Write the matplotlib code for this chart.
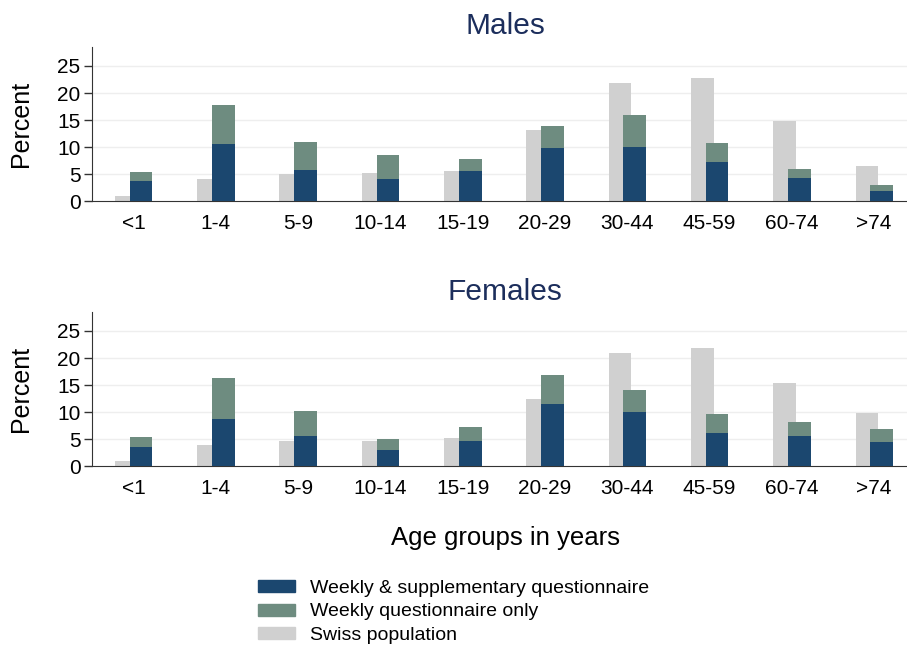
import numpy as np
import matplotlib
matplotlib.use("Agg")
import matplotlib.pyplot as plt
from matplotlib.patches import Patch

plt.rcParams['font.family'] = ['Liberation Sans', 'DejaVu Sans']

# Datos
grupos = ['<1', '1-4', '5-9', '10-14', '15-19', '20-29', '30-44', '45-59', '60-74', '>74']

hombres_poblacion = [1.0, 4.2, 5.1, 5.2, 5.6, 13.2, 21.8, 22.85, 14.75, 6.45]
hombres_semanal_supl = [3.7, 10.6, 5.8, 4.2, 5.6, 9.8, 10.0, 7.25, 4.3, 1.85]
hombres_semanal_total = [5.35, 17.7, 10.9, 8.5, 7.9, 14.0, 15.9, 10.75, 6.0, 3.1]

mujeres_poblacion = [1.0, 3.9, 4.7, 4.7, 5.2, 12.5, 20.9, 21.9, 15.4, 9.8]
mujeres_semanal_supl = [3.6, 8.7, 5.65, 3.0, 4.7, 11.5, 10.0, 6.1, 5.65, 4.5]
mujeres_semanal_total = [5.5, 16.4, 10.25, 5.1, 7.3, 16.8, 14.1, 9.7, 8.1, 6.9]

etiquetas = ['Weekly & supplementary questionnaire', 'Weekly questionnaire only', 'Swiss population']

azul = '#1b476f'
verde = '#6e8c80'
gris = '#d0d0d0'
titulo_color = '#1c2e5c'

fig = plt.figure(figsize=(9.07, 6.53), dpi=100)

def panel(pos, titulo, titulo_y, poblacion, supl, total):
    ax = fig.add_axes(pos)
    x = np.arange(len(grupos))
    ancho = 0.275
    solo_semanal = np.array(total) - np.array(supl)
    ax.bar(x - 0.225, poblacion, width=ancho, align='edge', color=gris, zorder=2)
    ax.bar(x - 0.045, supl, width=ancho, align='edge', color=azul, zorder=3)
    ax.bar(x - 0.045, solo_semanal, bottom=supl, width=ancho, align='edge', color=verde, zorder=3)
    ax.set_xlim(-0.508, 9.4)
    ax.set_ylim(0, 28.5)
    ax.set_yticks([0, 5, 10, 15, 20, 25])
    ax.set_xticks(x)
    ax.set_xticklabels(grupos)
    ax.tick_params(axis='y', labelsize=15, length=6, width=1, color='#333333', pad=2)
    ax.tick_params(axis='x', labelsize=15, length=0, pad=9)
    for y in [5, 10, 15, 20, 25]:
        ax.axhline(y, color='#eeeeee', lw=1, zorder=1)
    ax.spines['top'].set_visible(False)
    ax.spines['right'].set_visible(False)
    ax.spines['left'].set_color('#333333')
    ax.spines['bottom'].set_color('#333333')
    ax.set_ylabel('Percent', fontsize=18)
    ax.yaxis.set_label_coords(-(91.7 - 33) / (0.899 * 907), 0.5)
    fig.text(505 / 907, titulo_y, titulo, ha='center', va='center', fontsize=21.5, color=titulo_color)
    return ax

panel([0.101, 0.6917, 0.899, 0.2363], 'Males', 1 - 26 / 653,
      hombres_poblacion, hombres_semanal_supl, hombres_semanal_total)
panel([0.101, 0.2859, 0.899, 0.2363], 'Females', 1 - 292 / 653,
      mujeres_poblacion, mujeres_semanal_supl, mujeres_semanal_total)

fig.text(505 / 907, 1 - 538 / 653, 'Age groups in years', ha='center', va='center', fontsize=18.5)

handles = [Patch(color=azul), Patch(color=verde), Patch(color=gris)]
fig.legend(handles, etiquetas, loc='upper left', bbox_to_anchor=(258 / 907, 1 - 580 / 653),
           frameon=False, fontsize=14, handlelength=1.9, handleheight=0.57,
           handletextpad=0.77, labelspacing=0.33, borderaxespad=0, borderpad=0)

fig.savefig('out.png', dpi=100)
